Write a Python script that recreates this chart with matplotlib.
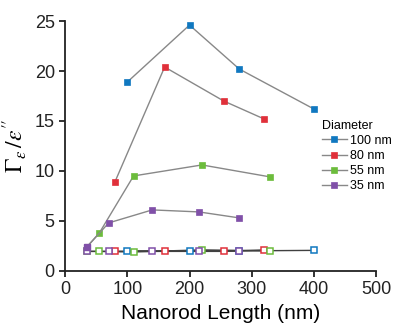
import matplotlib
matplotlib.use("Agg")
import matplotlib.pyplot as plt

plt.rcParams['font.family'] = ['Liberation Sans', 'DejaVu Sans']
plt.rcParams['mathtext.fontset'] = 'stix'

colors = ['#1078c0', '#e0303a', '#6cbc3c', '#8050a8']
labels = ['100 nm', '80 nm', '55 nm', '35 nm']

# filled markers (Gamma/eps'')
x_100 = [100, 200, 280, 400]
y_100 = [18.9, 24.6, 20.2, 16.2]
x_80 = [80, 160, 255, 320]
y_80 = [8.9, 20.4, 17.0, 15.2]
x_55 = [35, 55, 110, 220, 330]
y_55 = [2.4, 3.8, 9.5, 10.6, 9.4]
x_35 = [35, 70, 140, 215, 280]
y_35 = [2.4, 4.8, 6.1, 5.9, 5.3]

# open markers near 2
yo_100 = [2.0, 2.0, 2.0, 2.05]
yo_80 = [1.95, 1.95, 1.95, 2.1]
yo_55 = [1.95, 1.95, 1.9, 2.1, 2.0]
yo_35 = [1.95, 1.95, 1.95, 2.0, 2.0]

fig = plt.figure(figsize=(3.95, 3.24), dpi=100)
ax = fig.add_axes([0.165, 0.164, 0.787, 0.771])

filled = [(x_100, y_100), (x_80, y_80), (x_55, y_55), (x_35, y_35)]
opened = [(x_100, yo_100), (x_80, yo_80), (x_55, yo_55), (x_35, yo_35)]

for (xs, ys), c in zip(opened, colors):
    ax.plot(xs, ys, '-', color='#404040', lw=1, zorder=2)
for (xs, ys), c in zip(opened, colors):
    ax.plot(xs, ys, 's', ms=4.2, mfc='white', mec=c, mew=1.1, zorder=3)

handles = []
for (xs, ys), c, lab in zip(filled, colors, labels):
    h, = ax.plot(xs, ys, '-s', color='#888888', ms=5, mfc=c, mec=c, mew=0.5,
                 label=lab, zorder=3, lw=1)
    handles.append(h)
ax.plot(x_35[:1], y_35[:1], 's', ms=5, mfc=colors[3], mec=colors[3], zorder=4)

ax.set_xlim(0, 500)
ax.set_ylim(0, 25)
ax.set_xticks([0, 100, 200, 300, 400, 500])
ax.set_yticks([0, 5, 10, 15, 20, 25])
for s in ['top', 'right']:
    ax.spines[s].set_visible(False)
for s in ['left', 'bottom']:
    ax.spines[s].set_linewidth(1.3)
    ax.spines[s].set_color('#222222')
ax.tick_params(direction='out', length=4, width=1.3, labelsize=13, colors='#222222')
ax.set_xlabel('Nanorod Length (nm)', fontsize=15)
ax.set_ylabel(r"$\Gamma_{\varepsilon}\,/\varepsilon''$", fontsize=17, labelpad=4)

leg = ax.legend(handles=handles, title='Diameter', loc='upper left',
                bbox_to_anchor=(0.825, 0.605), frameon=False, fontsize=9,
                title_fontsize=9, handlelength=2.0, handletextpad=0.3,
                labelspacing=0.25, borderpad=0, borderaxespad=0)
leg._legend_box.align = 'left'

fig.savefig('out.png', dpi=100)
